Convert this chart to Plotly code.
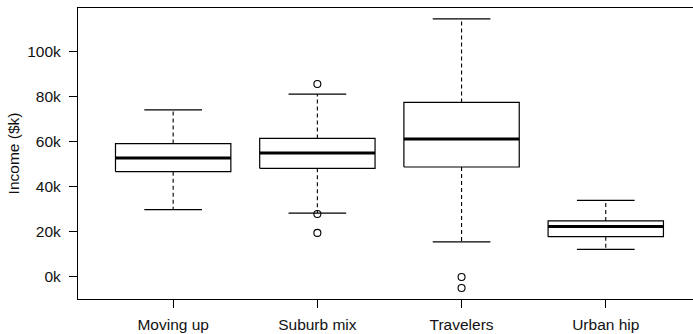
import plotly.graph_objects as go

# Income distribution by segment (values in $k)
segments = ["Moving up", "Suburb mix", "Travelers", "Urban hip"]
whisker_low = [29.6, 28.1, 15.3, 12.0]
q1 = [46.5, 48.0, 48.6, 17.6]
median = [52.6, 54.8, 61.0, 22.1]
q3 = [59.0, 61.3, 77.3, 24.6]
whisker_high = [74.0, 81.0, 114.5, 33.8]
outliers = [[], [85.5, 27.7, 19.3], [-0.3, -5.2], []]

y_tick_vals = [0, 20, 40, 60, 80, 100]
y_tick_text = ["0k", "20k", "40k", "60k", "80k", "100k"]

BOX_HALF = 0.4
CAP_HALF = 0.2
FONT = "Liberation Sans, Arial, Helvetica, sans-serif"
FS = 15.5

box_x, box_y = [], []
med_x, med_y = [], []
wh_x, wh_y = [], []
cap_x, cap_y = [], []
out_x, out_y = [], []
for i in range(len(segments)):
    c = i + 1
    box_x += [c - BOX_HALF, c + BOX_HALF, c + BOX_HALF, c - BOX_HALF, c - BOX_HALF, None]
    box_y += [q1[i], q1[i], q3[i], q3[i], q1[i], None]
    med_x += [c - BOX_HALF, c + BOX_HALF, None]
    med_y += [median[i], median[i], None]
    wh_x += [c, c, None, c, c, None]
    wh_y += [q3[i], whisker_high[i], None, q1[i], whisker_low[i], None]
    cap_x += [c - CAP_HALF, c + CAP_HALF, None, c - CAP_HALF, c + CAP_HALF, None]
    cap_y += [whisker_high[i], whisker_high[i], None, whisker_low[i], whisker_low[i], None]
    for v in outliers[i]:
        out_x.append(c)
        out_y.append(v)

fig = go.Figure()
fig.add_trace(go.Scatter(x=wh_x, y=wh_y, mode="lines",
                         line=dict(color="black", width=1.1, dash="4px,3px")))
fig.add_trace(go.Scatter(x=cap_x, y=cap_y, mode="lines",
                         line=dict(color="black", width=1.2)))
fig.add_trace(go.Scatter(x=box_x, y=box_y, mode="lines",
                         line=dict(color="black", width=1.2)))
fig.add_trace(go.Scatter(x=med_x, y=med_y, mode="lines",
                         line=dict(color="black", width=3)))
fig.add_trace(go.Scatter(x=out_x, y=out_y, mode="markers",
                         marker=dict(symbol="circle-open", size=7, color="black",
                                     line=dict(width=1.1))))

fig.update_layout(
    width=693, height=334,
    margin=dict(l=78, r=0, t=8, b=35),
    paper_bgcolor="white", plot_bgcolor="white",
    showlegend=False,
    font=dict(family=FONT, size=FS, color="#111111"),
    xaxis=dict(
        range=[0.34, 4.605],
        tickmode="array", tickvals=[1, 2, 3, 4], ticktext=segments,
        ticks="outside", ticklen=8, tickwidth=1, tickcolor="black",
        ticklabelstandoff=3,
        showline=True, linecolor="black", linewidth=1.2, mirror=True,
        showgrid=False, zeroline=False,
        tickfont=dict(family=FONT, size=FS),
    ),
    yaxis=dict(
        range=[-10.1, 119.3],
        tickmode="array", tickvals=y_tick_vals, ticktext=y_tick_text,
        ticks="outside", ticklen=8, tickwidth=1, tickcolor="black",
        ticklabelstandoff=5,
        showline=True, linecolor="black", linewidth=1.2, mirror=False,
        showgrid=False, zeroline=False,
        tickfont=dict(family=FONT, size=FS),
        title=dict(text="Income ($k)", font=dict(family=FONT, size=FS), standoff=3),
    ),
)

fig.write_html("out.html")
